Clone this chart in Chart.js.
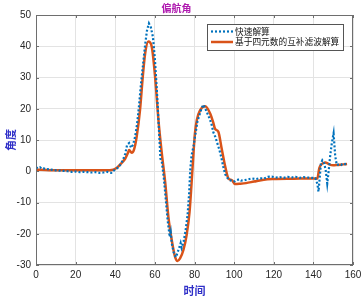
<!DOCTYPE html>
<html><head><meta charset="utf-8">
<script src="https://cdn.jsdelivr.net/npm/chart.js@4"></script>
<style>html,body{margin:0;padding:0;background:#fff}#wrap{width:361px;height:300px}</style>
</head><body><div id="wrap"><canvas id="c"></canvas></div>
<script>
const chartTitle = '偏航角';
const xTitle = '时间';
const yTitle = '角度';
const seriesNames = ['快速解算', '基于四元数的互补滤波解算'];

const tBlue = [0,1,2,3,4,5,6,7,8,10,12,14,16,18,20,22,24,26,28,30,32,34,36,38,39,40,41,42,43,44,45,46,47,48,49,50,51,52,53,54,55,56,57,58,59,60,61,62,62.8,63.5,64.5,65.5,66.5,67.5,68,68.5,69.5,70.5,71,72,73,73.5,74.5,75.5,76.5,77.3,77.8,78.5,79.5,80.5,81.5,82.5,83.5,84.5,85.5,86.5,87.5,88.5,89.5,90.5,91.5,92.5,93.5,94.5,95.5,96.5,97.5,98.5,99.5,100.5,101.5,102.5,103.5,105,107,109,111,113,115,117,119,121,123,125,127,129,131,133,135,137,139,141,142,142.6,143.2,143.8,144.5,145.5,146.3,147,147.7,148.5,149.3,150.2,151,151.8,153,154,155,156,157];
const vBlue = [1.2,1.0,1.3,0.8,0.9,0.6,0.7,0.4,0.5,0.3,0.2,0.1,0,-0.2,-0.1,-0.3,-0.2,-0.3,-0.4,-0.3,-0.5,-0.4,-0.2,-0.5,0.2,0.4,1,1.6,2.5,3.8,5.5,8.5,9,7.5,8.5,11,15,21,28,34,40,45,47.3,46,43,36,26,14,4,3,-2,-9,-16,-21,-19.5,-23,-26,-27.5,-26.8,-25,-23,-24.5,-22.5,-19,-14,-7,0,5,8,12,16,18,20,21.3,20,18.5,17,15.3,12.5,11,9,7,4.5,1.5,-1,-2,-2.8,-3,-3.3,-3.2,-2.8,-2.6,-3,-2.9,-2.6,-2.3,-2.5,-2.2,-2.4,-1.8,-1.7,-2.0,-1.9,-2.1,-1.8,-2.0,-1.8,-2.1,-1.9,-2.0,-2.1,-2.2,-4,-6.5,-2,2.5,3.5,2.5,0,-3.9,0,5,9,12.1,5,2,2.2,2,2.5,2.3,2.4];

const tRed = [0,5,10,15,20,25,30,35,39,41,43,45,46.5,47,48.3,49.5,50.8,52.5,53.9,55.1,56.7,58.4,60.1,61,61.8,63.5,65.2,66.8,68.5,70.2,71.4,72.7,74.4,76,77.5,78.5,79.3,80.2,81.2,82.8,85.4,87.9,89.5,90.4,92,93.7,95.5,97.1,98.8,100.5,103,106,110,115,120,130,140,142,143,144,145,146,147,148,150,152,155,157];
const vRed = [0.5,0.4,0.3,0.3,0.3,0.3,0.3,0.3,0.5,1.2,2.5,4,6,6.8,5.9,7,11,19.6,30.3,37.7,41.5,39.9,30.3,23,16.4,5.7,-3.5,-14.5,-22,-27.4,-28.7,-27.9,-25.2,-20.5,-13,-4,4,12,16.5,19.5,20.8,18.5,15.5,13.5,12.7,7.3,1.5,-2.3,-2.8,-4.1,-4,-3.8,-3.3,-2.7,-2.5,-2.4,-2.3,-2.3,1,2.2,2.6,2.8,2.6,2.2,1.9,2.0,2.2,2.3];

const xTicks = [0,20,40,60,80,100,120,140,160];
const yTicks = [-30,-20,-10,0,10,20,30,40,50];

const blueColor = '#0072BD';
const redColor = '#D95319';

const boxPlugin = {
  id: 'boxAndLegend',
  afterDatasetsDraw(chart) {
    const {ctx, chartArea: a} = chart;
    ctx.save();
    ctx.strokeStyle = '#6e6e6e';
    ctx.lineWidth = 1;
    ctx.strokeRect(a.left + 0.5, a.top + 0.5, a.right - a.left - 1, a.bottom - a.top - 1);
    const xs = chart.scales.x, ys = chart.scales.y;
    ctx.beginPath();
    xTicks.forEach(v => { const px = Math.round(xs.getPixelForValue(v)) + 0.5;
      ctx.moveTo(px, a.bottom); ctx.lineTo(px, a.bottom - 3);
      ctx.moveTo(px, a.top); ctx.lineTo(px, a.top + 3); });
    yTicks.forEach(v => { const py = Math.round(ys.getPixelForValue(v)) + 0.5;
      ctx.moveTo(a.left, py); ctx.lineTo(a.left + 3, py);
      ctx.moveTo(a.right, py); ctx.lineTo(a.right - 3, py); });
    ctx.stroke();
    // legend
    const bx = a.right - 146, by = a.top + 9, bw = 136, bh = 26;
    ctx.fillStyle = '#fff';
    ctx.fillRect(bx, by, bw, bh);
    ctx.strokeStyle = '#555';
    ctx.strokeRect(bx + 0.5, by + 0.5, bw, bh);
    const ds = chart.data.datasets;
    ctx.font = '8.7px "Noto Sans CJK SC"';
    ctx.textBaseline = 'middle';
    ctx.fillStyle = '#111';
    [by + 7.5, by + 18].forEach((yy, i) => {
      ctx.beginPath();
      ctx.strokeStyle = ds[i].borderColor;
      ctx.lineWidth = ds[i].borderWidth;
      ctx.setLineDash(ds[i].borderDash || []);
      ctx.moveTo(bx + 4, yy); ctx.lineTo(bx + 26, yy);
      ctx.stroke();
      ctx.setLineDash([]);
      ctx.fillText(ds[i].label, bx + 28, yy);
    });
    ctx.restore();
  }
};

new Chart(document.getElementById('c'), {
  type: 'line',
  data: {
    datasets: [
      { label: seriesNames[0], data: tBlue.map((t, i) => ({x: t, y: vBlue[i]})),
        borderColor: blueColor, borderWidth: 2.2, borderDash: [2, 2], pointRadius: 0, fill: false, tension: 0 },
      { label: seriesNames[1], data: tRed.map((t, i) => ({x: t, y: vRed[i]})),
        borderColor: redColor, borderWidth: 2.5, pointRadius: 0, fill: false, tension: 0.3, cubicInterpolationMode: 'monotone' }
    ]
  },
  options: {
    responsive: true, maintainAspectRatio: false, animation: false,
    layout: { padding: { left: 0, right: 8, top: 0, bottom: 0 } },
    plugins: {
      legend: { display: false },
      tooltip: { enabled: false },
      title: { display: true, text: chartTitle, color: '#B01CB0',
        font: { family: '"Noto Sans CJK SC"', size: 10, weight: 'bold' }, padding: { top: 2, bottom: 1 } }
    },
    scales: {
      x: { type: 'linear', min: 0, max: 160,
        afterBuildTicks(s) { s.ticks = xTicks.map(v => ({value: v})); },
        afterFit(s) { s.height = 35; s.paddingLeft = 0; s.paddingRight = 0; },
        ticks: { color: '#262626', font: { family: '"Liberation Sans"', size: 10 }, padding: 4, maxRotation: 0 },
        grid: { color: '#e3e3e3', drawTicks: false },
        border: { display: false },
        title: { display: true, text: xTitle, color: '#3030C8', font: { family: '"Noto Sans CJK SC"', size: 11, weight: 'bold' }, padding: { top: 0, bottom: 3 } }
      },
      y: { type: 'linear', min: -30, max: 50,
        afterBuildTicks(s) { s.ticks = yTicks.map(v => ({value: v})); },
        afterFit(s) { s.width = 36; s.paddingTop = 0; s.paddingBottom = 0; },
        ticks: { color: '#262626', font: { family: '"Liberation Sans"', size: 10 }, padding: 5 },
        grid: { color: '#e3e3e3', drawTicks: false },
        border: { display: false },
        title: { display: true, text: yTitle, color: '#3030C8', font: { family: '"Noto Sans CJK SC"', size: 11, weight: 'bold' }, padding: { top: 4, bottom: 0 } }
      }
    }
  },
  plugins: [boxPlugin]
});
</script>
</body></html>
